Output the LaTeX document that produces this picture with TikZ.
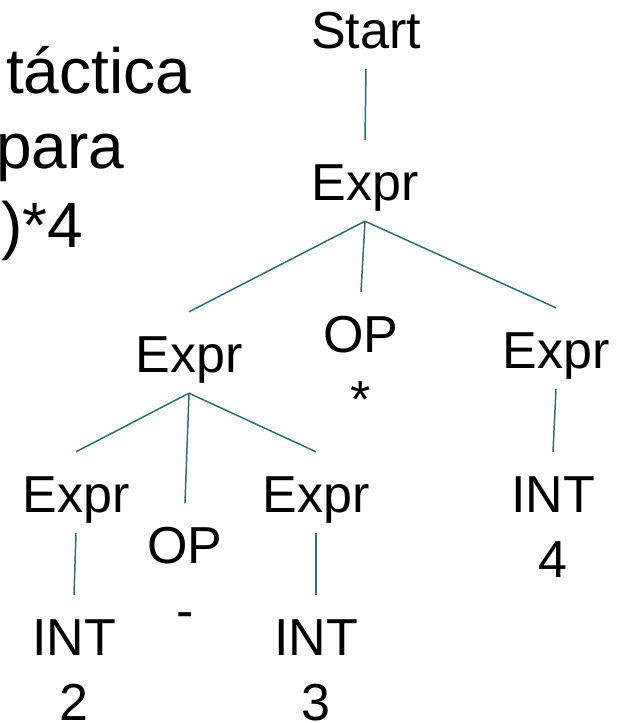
\documentclass[tikz,border=0pt]{standalone}
\usepackage{fontspec}
\setmainfont{Liberation Sans}
\usepackage{tikz}
\usetikzlibrary{positioning}

\definecolor{edgeteal}{RGB}{45,110,110}

\begin{document}
\begin{tikzpicture}[x=1pt,y=-1pt,
  tnode/.style={font=\fontsize{52}{65}\selectfont,align=center,anchor=base,
    inner xsep=0pt,inner ysep=21pt,text height=39pt,text depth=0pt},
  % two-line nodes sit on the baseline of their second line
  tnode2/.style={tnode,text height=104pt},
  side/.style={font=\fontsize{64}{75}\selectfont,anchor=base west,inner sep=0pt},
  edge/.style={draw=edgeteal,line width=1.5pt}]

\useasboundingbox (0,0) rectangle (621,723);
\clip (0,0) rectangle (621,723);

% title fragments on the left
\node[side] (ttl1) at (6,93) {táctica};
\node[side] (ttl2) at (-4,168) {para};
\node[side] (ttl3) at (1,247) {)*4};

% tree
\node[tnode] (start) at (366,48) {Start};
\node[tnode] (e0) at (365,200) {Expr};
\node[tnode] (e1) at (189,372) {Expr};
\node[tnode2] (op1) at (361,417) {OP\\*};
\node[tnode] (e2) at (556,368) {Expr};
\node[tnode] (e3) at (76,512) {Expr};
\node[tnode2] (op2) at (185,628) {OP\\-};
\node[tnode] (e4) at (316,512) {Expr};
\node[tnode2] (int4) at (553,577) {INT\\4};
\node[tnode2] (int2) at (74,720) {INT\\2};
\node[tnode2] (int3) at (316,720) {INT\\3};

\draw[edge] (start.south) -- (e0.north);
\draw[edge] (e0.south) -- (e1.north);
\draw[edge] (e0.south) -- (op1.north);
\draw[edge] (e0.south) -- (e2.north);
\draw[edge] (e1.south) -- (e3.north);
\draw[edge] (e1.south) -- (op2.north);
\draw[edge] (e1.south) -- (e4.north);
\draw[edge] (e2.south) -- (int4.north);
\draw[edge] (e3.south) -- (int2.north);
\draw[edge] (e4.south) -- (int3.north);
\end{tikzpicture}
\end{document}
